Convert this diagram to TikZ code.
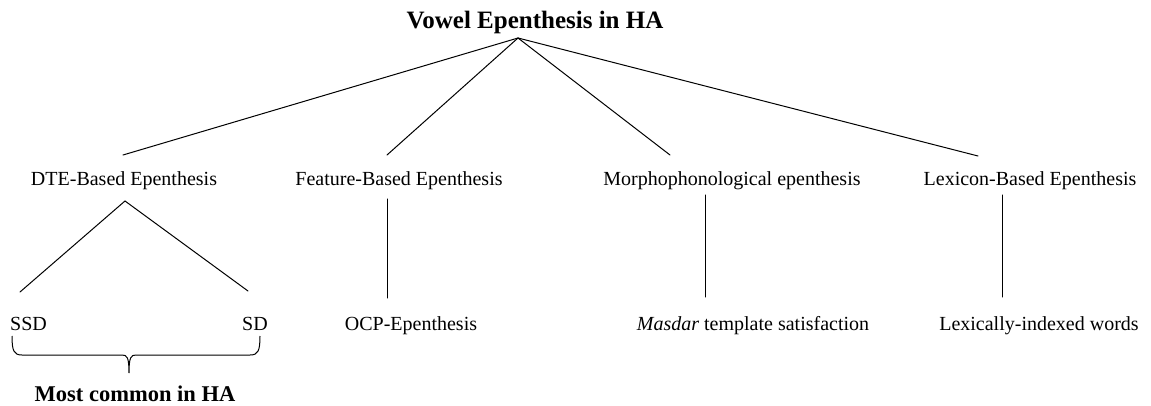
\documentclass[tikz,border=0pt]{standalone}
\usepackage{fontspec}
\setmainfont{Liberation Serif}
\begin{document}
\begin{tikzpicture}[x=1pt,y=-1pt,
  lbl/.style={anchor=base,inner sep=0pt,font=\fontsize{20}{24}\selectfont},
  head/.style={anchor=base,inner sep=0pt,font=\fontsize{25}{30}\selectfont\bfseries},
  note/.style={anchor=base,inner sep=0pt,font=\fontsize{22.5}{27}\selectfont\bfseries},
  branch/.style={line width=1pt,line cap=round}]
\useasboundingbox (0,0) rectangle (1151,406);
% root
\node[head] (root) at (535,29) {Vowel Epenthesis in HA};
% first level
\node[lbl] (dte)  at (124,186) {DTE-Based Epenthesis};
\node[lbl] (feat) at (399,186) {Feature-Based Epenthesis};
\node[lbl] (morph) at (732,186) {Morphophonological epenthesis};
\node[lbl] (lex)  at (1030,186) {Lexicon-Based Epenthesis};
% second level
\node[lbl,anchor=base west] (ssd) at (10,330) {SSD};
\node[lbl,anchor=base east] (sd)  at (268,330) {SD};
\node[lbl] (ocp)  at (411,330) {OCP-Epenthesis};
\node[lbl] (masdar) at (753,330) {\textit{Masdar} template satisfaction};
\node[lbl] (lexw) at (1039,330) {Lexically-indexed words};
\node[note] (common) at (135,401) {Most common in HA};
% connector ends
\coordinate (apex) at (518,38);
\coordinate (dteT) at (123,155);
\coordinate (featT) at (387,155);
\coordinate (morphT) at (670,155);
\coordinate (lexT) at (978,156);
\coordinate (dteB) at (125,201);
\coordinate (ssdT) at (20,292);
\coordinate (sdT) at (248,291);
\coordinate (featB) at (387,199);
\coordinate (ocpT) at (387,298);
\coordinate (morphB) at (705,195);
\coordinate (masT) at (705,297);
\coordinate (lexB) at (1002,195);
\coordinate (lexwT) at (1002,297);
% branches
\draw[branch] (apex) -- (dteT);
\draw[branch] (apex) -- (featT);
\draw[branch] (apex) -- (morphT);
\draw[branch] (apex) -- (lexT);
\draw[branch] (ssdT) -- (dteB) -- (sdT);
\draw[branch] (featB) -- (ocpT);
\draw[branch] (morphB) -- (masT);
\draw[branch] (lexB) -- (lexwT);
% brace under SSD and SD
\coordinate (brL) at (12,336);
\coordinate (brR) at (260,336);
\coordinate (brM) at (129,373);
\draw[line width=1pt]
  (brL) .. controls (12,351) and (14,355) .. (22,355) -- (122,355)
  .. controls (127,355) and (129,357) .. (brM)
  .. controls (129,357) and (131,355) .. (136,355) -- (250,355)
  .. controls (258,355) and (260,351) .. (brR);
\end{tikzpicture}
\end{document}
